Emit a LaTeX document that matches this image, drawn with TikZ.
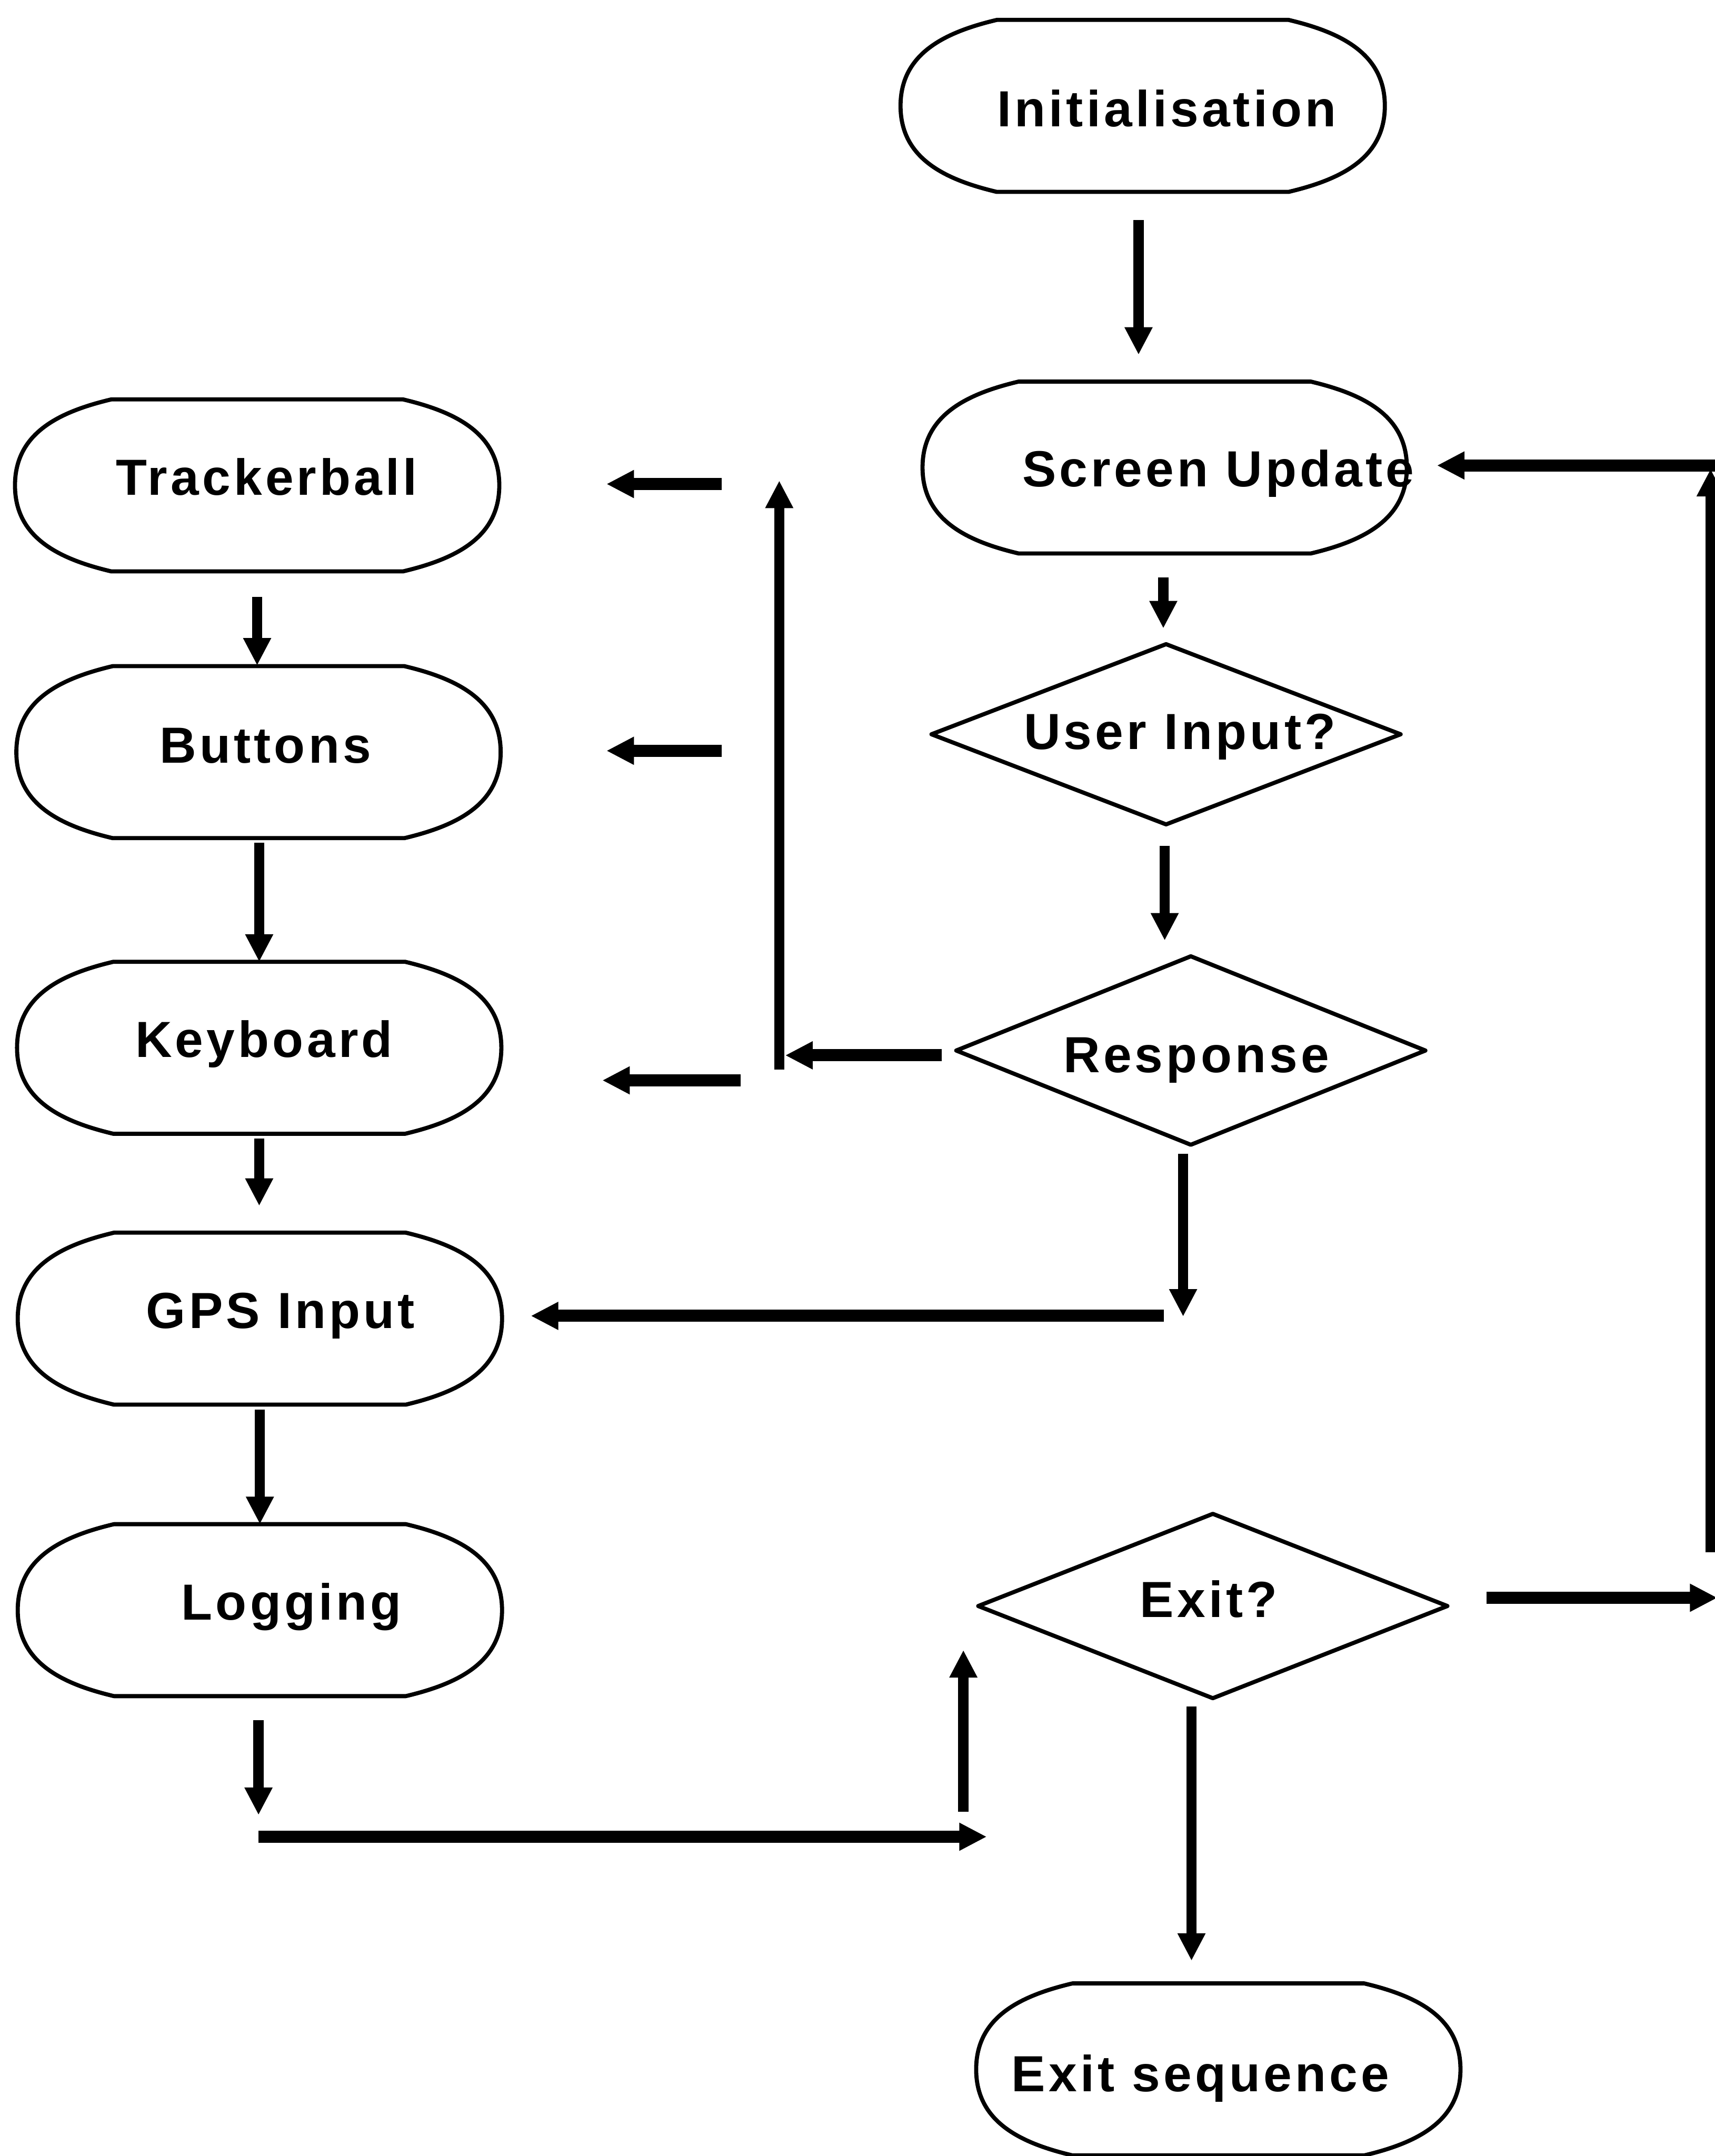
\documentclass[tikz,border=0pt]{standalone}
\usepackage{fontspec}
\setmainfont{Liberation Sans}
\newfontfamily\flowfont{Liberation Sans}[LetterSpace=6.5]
\usetikzlibrary{arrows.meta,calc,shapes.geometric}

\begin{document}
\begin{tikzpicture}[x=0.01cm, y=-0.01cm,
  every node/.style={inner sep=0pt, outer sep=0pt},
  termbox/.style={rectangle, minimum width=3.52cm, minimum height=1.25cm},
  decision/.style={diamond, draw, line width=0.85pt, line join=round, minimum width=3.41cm},
  outline/.style={line width=0.85pt, line join=round},
  lbl/.style={font=\flowfont\bfseries\fontsize{10.5pt}{12pt}\selectfont, anchor=base},
  flow/.style={line width=2.1pt, -{Triangle[length=0.2cm,width=0.19cm]}},
  hflow/.style={flow, line width=2.5pt}]

\fill[white] (0,0) rectangle (1247,1568);
\useasboundingbox (0,0) rectangle (1247,1568);

% terminal boxes (outlines drawn below)
\node[termbox] (init)  at (831,77)   {};
\node[termbox] (scr)   at (847,340)  {};
\node[termbox] (track) at (187,353)  {};
\node[termbox] (butt)  at (188,547)  {};
\node[termbox] (keyb)  at (188.5,762) {};
\node[termbox] (gps)   at (189,959)  {};
\node[termbox] (logg)  at (189,1171) {};
\node[termbox] (exseq) at (886,1505) {};

\foreach \n in {init,scr,track,butt,keyb,gps,logg,exseq}{
  \draw[outline]
    ($(\n.north west)+(70,0)$) -- ($(\n.north east)+(-70,0)$)
    .. controls ($(\n.north east)+(-32,9)$) and ($(\n.east)+(0,-38)$) .. (\n.east)
    .. controls ($(\n.east)+(0,38)$) and ($(\n.south east)+(-32,-9)$) .. ($(\n.south east)+(-70,0)$)
    -- ($(\n.south west)+(70,0)$)
    .. controls ($(\n.south west)+(32,-9)$) and ($(\n.west)+(0,38)$) .. (\n.west)
    .. controls ($(\n.west)+(0,-38)$) and ($(\n.north west)+(32,9)$) .. cycle;
}

% decisions
\node[decision, minimum height=1.31cm] (user)  at (848,534)  {};
\node[decision, minimum height=1.37cm] (resp)  at (866,764)  {};
\node[decision, minimum height=1.34cm] (exitq) at (882,1168) {};

% labels
\node[lbl] (init-t)  at (848.5,92)  {Initialisation};
\node[lbl] (scr-t)   at (886,354)   {Screen Update};
\node[lbl] (track-t) at (194,360)   {Trackerball};
\node[lbl] (butt-t)  at (193,555)   {Buttons};
\node[lbl] (keyb-t)  at (192,769)   {Keyboard};
\node[lbl] (gps-t)   at (204,966)   {GPS Input};
\node[lbl] (logg-t)  at (212,1178)  {Logging};
\node[lbl] (user-t)  at (858,545)   {User Input?};
\node[lbl] (resp-t)  at (870,780)   {Response};
\node[lbl] (exitq-t) at (879,1176)  {Exit?};
\node[lbl] (exseq-t) at (873,1521)  {Exit sequence};

% connector ends
\coordinate (i1) at (828,160);    \coordinate (i2) at (828,258);
\coordinate (s1) at (846,420);    \coordinate (s2) at (846,457);
\coordinate (u1) at (847,615);    \coordinate (u2) at (847,684);
\coordinate (r1) at (685,767.5);  \coordinate (r2) at (571,767.5);
\coordinate (v1) at (566.7,778);  \coordinate (v2) at (566.7,349.5);
\coordinate (t1) at (525,352);    \coordinate (t2) at (441,352);
\coordinate (b1) at (525,546);    \coordinate (b2) at (441,546);
\coordinate (k1) at (538.7,785.7); \coordinate (k2) at (438,785.7);
\coordinate (d1) at (860.4,839);  \coordinate (d2) at (860.4,957.5);
\coordinate (g1) at (846.4,957);  \coordinate (g2) at (386,957);
\coordinate (c1) at (187,434);    \coordinate (c2) at (187,484);
\coordinate (c3) at (188.5,613);
\coordinate (c4) at (188.5,828);  \coordinate (c5) at (188.5,877);
\coordinate (c6) at (189,1025);
\coordinate (l1) at (188,1251);   \coordinate (l2) at (188,1320);
\coordinate (h1) at (188,1335.8); \coordinate (h2) at (717.6,1335.8);
\coordinate (p1) at (700.6,1317.7); \coordinate (p2) at (700.6,1200);
\coordinate (e1) at (866.5,1241); \coordinate (e2) at (866.5,1426);
\coordinate (x1) at (1081,1162); \coordinate (x2) at (1249,1162);
\coordinate (y1) at (1244,1129); \coordinate (y2) at (1244,341);
\coordinate (z1) at (1248,338.5); \coordinate (z2) at (1045,338.5);

% main column
\draw[flow] (i1) -- (i2);
\draw[flow] (s1) -- (s2);
\draw[flow] (u1) -- (u2);
\draw[hflow] (r1) -- (r2);
\draw[flow, line width=2pt] (v1) -- (v2);
\draw[hflow] (t1) -- (t2);
\draw[hflow] (b1) -- (b2);
\draw[hflow] (k1) -- (k2);
\draw[flow] (d1) -- (d2);
\draw[hflow] (g1) -- (g2);

% input column
\draw[flow] (c1) -- (c2);
\draw[flow] (c3) -- (keyb.north);
\draw[flow] (c4) -- (c5);
\draw[flow] (c6) -- (logg.north);
\draw[flow] (l1) -- (l2);
\draw[hflow] (h1) -- (h2);
\draw[flow] (p1) -- (p2);

% exit decision
\draw[flow] (e1) -- (e2);
\draw[hflow] (x1) -- (x2);
\draw[flow] (y1) -- (y2);
\draw[hflow] (z1) -- (z2);
\end{tikzpicture}
\end{document}
